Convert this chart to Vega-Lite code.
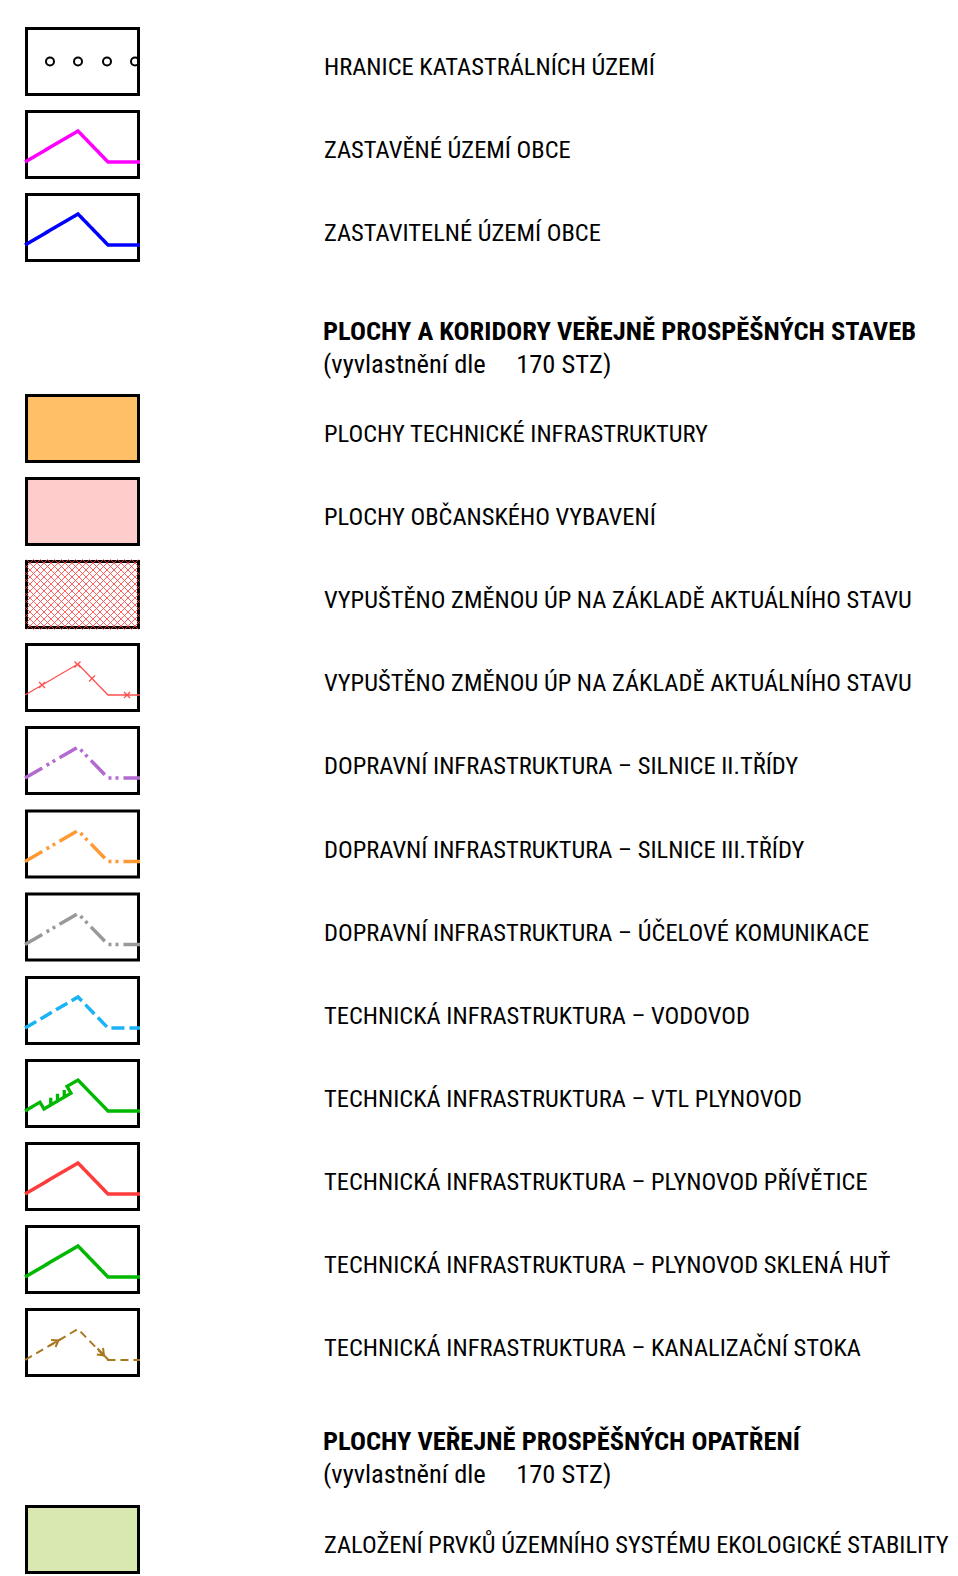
{
  "$schema": "https://vega.github.io/schema/vega-lite/v6.json",
  "width": 958,
  "height": 1576,
  "autosize": {"type": "none"},
  "padding": 0,
  "background": "white",
  "config": {"view": {"stroke": null}},
  "datasets": {
    "items": [
      {"y": 61.5, "symbol": "hranice", "label": "HRANICE KATASTRÁLNÍCH ÚZEMÍ"},
      {"y": 144.5, "symbol": "zastavene", "label": "ZASTAVĚNÉ ÚZEMÍ OBCE"},
      {"y": 227.5, "symbol": "zastavitelne", "label": "ZASTAVITELNÉ ÚZEMÍ OBCE"},
      {"y": 428.5, "symbol": "ti_plochy", "label": "PLOCHY TECHNICKÉ INFRASTRUKTURY"},
      {"y": 511.5, "symbol": "ov_plochy", "label": "PLOCHY OBČANSKÉHO VYBAVENÍ"},
      {"y": 594.5, "symbol": "vypusteno_plocha", "label": "VYPUŠTĚNO ZMĚNOU ÚP NA ZÁKLADĚ AKTUÁLNÍHO STAVU"},
      {"y": 677.5, "symbol": "vypusteno_koridor", "label": "VYPUŠTĚNO ZMĚNOU ÚP NA ZÁKLADĚ AKTUÁLNÍHO STAVU"},
      {"y": 760.5, "symbol": "silnice2", "label": "DOPRAVNÍ INFRASTRUKTURA – SILNICE II.TŘÍDY"},
      {"y": 844, "symbol": "silnice3", "label": "DOPRAVNÍ INFRASTRUKTURA – SILNICE III.TŘÍDY"},
      {"y": 927, "symbol": "ucelove", "label": "DOPRAVNÍ INFRASTRUKTURA – ÚČELOVÉ KOMUNIKACE"},
      {"y": 1010.5, "symbol": "vodovod", "label": "TECHNICKÁ INFRASTRUKTURA – VODOVOD"},
      {"y": 1093.5, "symbol": "vtl", "label": "TECHNICKÁ INFRASTRUKTURA – VTL PLYNOVOD"},
      {"y": 1176.5, "symbol": "privetice", "label": "TECHNICKÁ INFRASTRUKTURA – PLYNOVOD PŘÍVĚTICE"},
      {"y": 1259.5, "symbol": "sklena", "label": "TECHNICKÁ INFRASTRUKTURA – PLYNOVOD SKLENÁ HUŤ"},
      {"y": 1342.5, "symbol": "kanalizace", "label": "TECHNICKÁ INFRASTRUKTURA – KANALIZAČNÍ STOKA"},
      {"y": 1539.5, "symbol": "uses", "label": "ZALOŽENÍ PRVKŮ ÚZEMNÍHO SYSTÉMU EKOLOGICKÉ STABILITY"}
    ],
    "headings": [
      {"y": 330, "kind": "title", "label": "PLOCHY A KORIDORY VEŘEJNĚ PROSPĚŠNÝCH STAVEB"},
      {"y": 363, "kind": "sub", "label": "(vyvlastnění dle \u00a0\u00a0\u00a0\u00a0170 STZ)"},
      {"y": 1440, "kind": "title", "label": "PLOCHY VEŘEJNĚ PROSPĚŠNÝCH OPATŘENÍ"},
      {"y": 1473, "kind": "sub", "label": "(vyvlastnění dle \u00a0\u00a0\u00a0\u00a0170 STZ)"}
    ]
  },
  "layer": [
    {
      "data": {"name": "items"},
      "mark": {"type": "point", "shape": "M-56,-33H56V33H-56Z", "size": 4, "filled": true, "opacity": 1, "strokeWidth": 0},
      "encoding": {
        "x": {"datum": 82.5, "type": "quantitative", "scale": {"domain": [0, 958], "nice": false, "zero": false}, "axis": null},
        "y": {"field": "y", "type": "quantitative", "scale": {"domain": [0, 1576], "reverse": true, "nice": false, "zero": false}, "axis": null},
        "fill": {
          "field": "symbol", "type": "nominal", "legend": null,
          "scale": {
            "domain": ["hranice", "zastavene", "zastavitelne", "ti_plochy", "ov_plochy", "vypusteno_plocha", "vypusteno_koridor", "silnice2", "silnice3", "ucelove", "vodovod", "vtl", "privetice", "sklena", "kanalizace", "uses"],
            "range": ["#ffffff", "#ffffff", "#ffffff", "#ffbf66", "#ffcccc", "#ffffff", "#ffffff", "#ffffff", "#ffffff", "#ffffff", "#ffffff", "#ffffff", "#ffffff", "#ffffff", "#ffffff", "#d9e8b0"]
          }
        }
      }
    },
    {
      "data": {"name": "items"},
      "transform": [{"filter": "datum.symbol === 'hranice'"}],
      "mark": {"type": "point", "shape": "M-28.5,0A4,4 0 1,1 -36.5,0A4,4 0 1,1 -28.5,0M-0.5,0A4,4 0 1,1 -8.5,0A4,4 0 1,1 -0.5,0M28.5,0A4,4 0 1,1 20.5,0A4,4 0 1,1 28.5,0M56.5,0A4,4 0 1,1 48.5,0A4,4 0 1,1 56.5,0", "size": 4, "filled": false, "opacity": 1, "stroke": "#000000", "strokeWidth": 2},
      "encoding": {
        "x": {"datum": 82.5, "type": "quantitative"},
        "y": {"field": "y", "type": "quantitative"}
      }
    },
    {
      "data": {"name": "items"},
      "mark": {"type": "point", "shape": "M-56,-33H56V33H-56Z", "size": 4, "filled": false, "opacity": 1, "stroke": "#000000", "strokeWidth": 3, "strokeJoin": "miter"},
      "encoding": {
        "x": {"datum": 82.5, "type": "quantitative"},
        "y": {"field": "y", "type": "quantitative"}
      }
    },
    {
      "data": {"name": "items"},
      "transform": [{"filter": "datum.symbol === 'vypusteno_plocha'"}],
      "mark": {"type": "point", "shape": "M49,-35L57,-27M42,-35L57,-20M35,-35L57,-13M28,-35L57,-6M21,-35L57,1M14,-35L57,8M7,-35L57,15M0,-35L57,22M-7,-35L57,29M-14,-35L56,35M-21,-35L49,35M-28,-35L42,35M-35,-35L35,35M-42,-35L28,35M-49,-35L21,35M-56,-35L14,35M-57,-29L7,35M-57,-22L0,35M-57,-15L-7,35M-57,-8L-14,35M-57,-1L-21,35M-57,6L-28,35M-57,13L-35,35M-57,20L-42,35M-57,27L-49,35M-49,-35L-57,-27M-42,-35L-57,-20M-35,-35L-57,-13M-28,-35L-57,-6M-21,-35L-57,1M-14,-35L-57,8M-7,-35L-57,15M0,-35L-57,22M7,-35L-57,29M14,-35L-56,35M21,-35L-49,35M28,-35L-42,35M35,-35L-35,35M42,-35L-28,35M49,-35L-21,35M56,-35L-14,35M57,-29L-7,35M57,-22L0,35M57,-15L7,35M57,-8L14,35M57,-1L21,35M57,6L28,35M57,13L35,35M57,20L42,35M57,27L49,35", "size": 4, "filled": false, "opacity": 0.9, "stroke": "#ff3b3b", "strokeWidth": 0.9},
      "encoding": {
        "x": {"datum": 82.5, "type": "quantitative"},
        "y": {"field": "y", "type": "quantitative"}
      }
    },
    {
      "data": {"name": "items"},
      "transform": [{"filter": {"field": "symbol", "oneOf": ["zastavene", "zastavitelne", "silnice2", "silnice3", "ucelove", "vodovod", "privetice", "sklena"]}}],
      "mark": {"type": "point", "shape": "M-57.5,17.5L-4.5,-13.5L25.5,17.5L57.5,17.5", "size": 4, "filled": false, "opacity": 1, "strokeWidth": 3.5, "strokeJoin": "miter", "strokeCap": "butt"},
      "encoding": {
        "x": {"datum": 82.5, "type": "quantitative"},
        "y": {"field": "y", "type": "quantitative"},
        "stroke": {
          "field": "symbol", "type": "nominal", "legend": null,
          "scale": {
            "domain": ["zastavene", "zastavitelne", "silnice2", "silnice3", "ucelove", "vodovod", "privetice", "sklena"],
            "range": ["#ff00ff", "#0000ff", "#b36bd1", "#ff9933", "#999999", "#1ab3f5", "#ff3b3b", "#00b800"]
          }
        },
        "strokeDash": {
          "field": "symbol", "type": "nominal", "legend": null,
          "scale": {
            "domain": ["zastavene", "zastavitelne", "silnice2", "silnice3", "ucelove", "vodovod", "privetice", "sklena"],
            "range": [[1, 0], [1, 0], [20, 5, 3, 4, 3, 5], [20, 5, 3, 4, 3, 5], [20, 5, 3, 4, 3, 5], [13, 5], [1, 0], [1, 0]]
          }
        }
      }
    },
    {
      "data": {"name": "items"},
      "transform": [{"filter": "datum.symbol === 'vtl'"}],
      "mark": {"type": "point", "shape": "M-57.5,17.5L-42.5,8.7L-38.5,15.5L-11.5,-0.3L-15.5,-7.1L-4.5,-13.5L25.5,17.5L57.5,17.5M-31.75,11.55L-31.75,4.3M-25,7.6L-25,0.3M-18.25,3.65L-18.25,-3.6", "size": 4, "filled": false, "opacity": 1, "stroke": "#00b800", "strokeWidth": 3.3, "strokeJoin": "miter"},
      "encoding": {
        "x": {"datum": 82.5, "type": "quantitative"},
        "y": {"field": "y", "type": "quantitative"}
      }
    },
    {
      "data": {"name": "items"},
      "transform": [{"filter": "datum.symbol === 'vypusteno_koridor'"}],
      "mark": {"type": "point", "shape": "M-57.5,17.5L-4.5,-13.5L25.5,17.5L57.5,17.5M-43.5,4.5L-37.5,10.5M-43.5,10.5L-37.5,4.5M-8,-16L-2,-10M-8,-10L-2,-16M6.5,-2L12.5,4M6.5,4L12.5,-2M41.5,14.5L47.5,20.5M41.5,20.5L47.5,14.5", "size": 4, "filled": false, "opacity": 1, "stroke": "#ff5050", "strokeWidth": 1.3},
      "encoding": {
        "x": {"datum": 82.5, "type": "quantitative"},
        "y": {"field": "y", "type": "quantitative"}
      }
    },
    {
      "data": {"name": "items"},
      "transform": [{"filter": "datum.symbol === 'kanalizace'"}],
      "mark": {"type": "point", "shape": "M-57.5,17.5L-4.5,-13.5L25.5,17.5L57.5,17.5", "size": 4, "filled": false, "opacity": 1, "stroke": "#a8771f", "strokeWidth": 2, "strokeDash": [8, 5]},
      "encoding": {
        "x": {"datum": 82.5, "type": "quantitative"},
        "y": {"field": "y", "type": "quantitative"}
      }
    },
    {
      "data": {"name": "items"},
      "transform": [{"filter": "datum.symbol === 'kanalizace'"}],
      "mark": {"type": "point", "shape": "M-27,4.5L-24,-2L-31.4,-2.5M20.5,5.5L21.5,12.8L14.3,12M-33,3.2L-22,-3.2M15,6L26,17.5", "size": 4, "filled": false, "opacity": 1, "stroke": "#a8771f", "strokeWidth": 2},
      "encoding": {
        "x": {"datum": 82.5, "type": "quantitative"},
        "y": {"field": "y", "type": "quantitative"}
      }
    },
    {
      "data": {"name": "items"},
      "mark": {"type": "text", "align": "left", "baseline": "middle", "dy": 6.5, "font": "Roboto Condensed, Liberation Sans Narrow, DejaVu Sans Condensed, sans-serif", "fontSize": 24.5, "color": "#000000"},
      "encoding": {
        "x": {"datum": 324, "type": "quantitative"},
        "y": {"field": "y", "type": "quantitative"},
        "text": {"field": "label", "type": "nominal"}
      }
    },
    {
      "data": {"name": "headings"},
      "transform": [{"filter": "datum.kind === 'title'"}],
      "mark": {"type": "text", "align": "left", "baseline": "middle", "dy": 1.5, "font": "Roboto Condensed, Liberation Sans Narrow, DejaVu Sans Condensed, sans-serif", "fontSize": 26.5, "fontWeight": "bold", "color": "#000000"},
      "encoding": {
        "x": {"datum": 323, "type": "quantitative"},
        "y": {"field": "y", "type": "quantitative"},
        "text": {"field": "label", "type": "nominal"}
      }
    },
    {
      "data": {"name": "headings"},
      "transform": [{"filter": "datum.kind === 'sub'"}],
      "mark": {"type": "text", "align": "left", "baseline": "middle", "dy": 1.5, "font": "Roboto Condensed, Liberation Sans Narrow, DejaVu Sans Condensed, sans-serif", "fontSize": 26.5, "color": "#000000"},
      "encoding": {
        "x": {"datum": 323, "type": "quantitative"},
        "y": {"field": "y", "type": "quantitative"},
        "text": {"field": "label", "type": "nominal"}
      }
    }
  ]
}
